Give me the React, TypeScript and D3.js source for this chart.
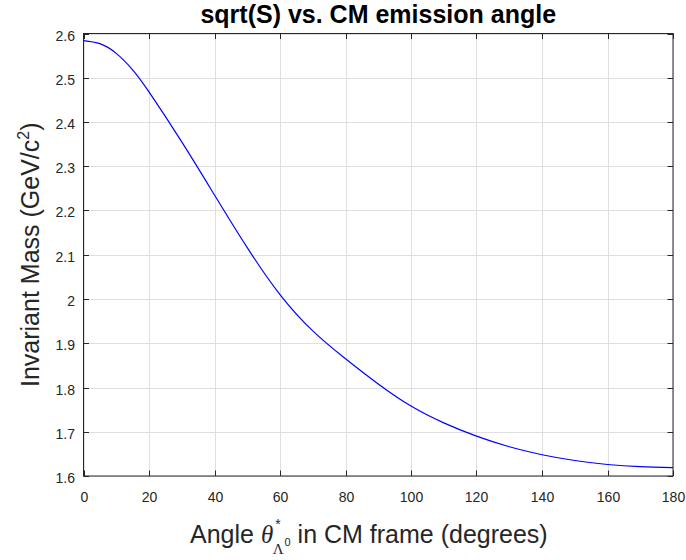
import React from "react";
import * as d3 from "d3";

const titleText = "sqrt(S) vs. CM emission angle";
const angleDeg = [0, 5, 10, 15, 20, 30, 40, 50, 60, 70, 80, 90, 100, 110, 120, 130, 140, 150, 160, 170, 180];
const invMass = [2.584, 2.577, 2.555, 2.518, 2.468, 2.355, 2.235, 2.116, 2.01, 1.928, 1.865, 1.808, 1.758, 1.72, 1.69, 1.666, 1.648, 1.635, 1.626, 1.621, 1.619];
const xTicks = [0, 20, 40, 60, 80, 100, 120, 140, 160, 180];
const yTicks = [1.6, 1.7, 1.8, 1.9, 2.0, 2.1, 2.2, 2.3, 2.4, 2.5, 2.6];

const W = 686;
const H = 560;
const L = 83.5;
const R = 673;
const T = 33.5;
const B = 476;

const AX = "#262626";
const GRID = "#dfdfdf";
const FONT = "'Liberation Sans', Arial, Helvetica, sans-serif";
const SERIF = "'Liberation Serif', 'Times New Roman', serif";

export default function App() {
  const x = d3.scaleLinear().domain([0, 180]).range([L, R]);
  const y = d3.scaleLinear().domain([1.6, 2.6]).range([B, T]);
  const pts = angleDeg.map((a, i) => [a, invMass[i]] as [number, number]);
  const line = d3
    .line<[number, number]>()
    .x((d) => x(d[0]))
    .y((d) => y(d[1]))
    .curve(d3.curveNatural);
  const fmt = (v: number) => String(+v.toFixed(1));
  const tickLen = 5.5;

  return (
    <svg
      width={W}
      height={H}
      style={{ position: "absolute", left: 0, top: 0, background: "#fff" }}
      fontFamily={FONT}
    >
      <rect x={0} y={0} width={W} height={H} fill="#fff" />
      {xTicks.map((t) => (
        <line key={"gx" + t} x1={Math.round(x(t)) + 0.5} x2={Math.round(x(t)) + 0.5} y1={T} y2={B} stroke={GRID} strokeWidth={1} />
      ))}
      {yTicks.map((t) => (
        <line key={"gy" + t} x1={L} x2={R} y1={Math.round(y(t)) + 0.5} y2={Math.round(y(t)) + 0.5} stroke={GRID} strokeWidth={1} />
      ))}
      <path d={line(pts) || ""} fill="none" stroke="#0000ff" strokeWidth={1.2} />
      <rect x={L} y={T} width={R - L} height={B - T} fill="none" stroke={AX} strokeWidth={1} />
      {xTicks.map((t) => {
        const px = Math.round(x(t)) + 0.5;
        return (
          <g key={"tx" + t}>
            <line x1={px} x2={px} y1={B} y2={B - tickLen} stroke={AX} />
            <line x1={px} x2={px} y1={T} y2={T + tickLen} stroke={AX} />
            <text x={px} y={B + 26} textAnchor="middle" fontSize={14} fill={AX}>
              {fmt(t)}
            </text>
          </g>
        );
      })}
      {yTicks.map((t) => {
        const py = Math.round(y(t)) + 0.5;
        return (
          <g key={"ty" + t}>
            <line x1={L} x2={L + tickLen} y1={py} y2={py} stroke={AX} />
            <line x1={R} x2={R - tickLen} y1={py} y2={py} stroke={AX} />
            <text x={75} y={py + 6} textAnchor="end" fontSize={14} fill={AX}>
              {fmt(t)}
            </text>
          </g>
        );
      })}
      <text x={(L + R) / 2} y={23} textAnchor="middle" fontSize={25} fontWeight="bold" fill="#000">
        {titleText}
      </text>
      <text x={190} y={543} fontSize={25} fill={AX}>
        <tspan>Angle </tspan>
        <tspan fontFamily={SERIF} fontStyle="italic">θ</tspan>
        <tspan fontSize={14} dx={2} dy={-14}>*</tspan>
        <tspan fontFamily={SERIF} fontSize={15} dx={-8} dy={25}>Λ</tspan>
        <tspan fontSize={11} dx={1} dy={-8}>0</tspan>
        <tspan fontSize={25} dy={-3}> in CM frame (degrees)</tspan>
      </text>
      <text transform={`translate(39, ${(T + B) / 2}) rotate(-90)`} textAnchor="middle" fontSize={25} fill={AX}>
        <tspan>Invariant Mass (GeV/c</tspan>
        <tspan fontSize={16} dy={-10}>2</tspan>
        <tspan dy={10}>)</tspan>
      </text>
    </svg>
  );
}
